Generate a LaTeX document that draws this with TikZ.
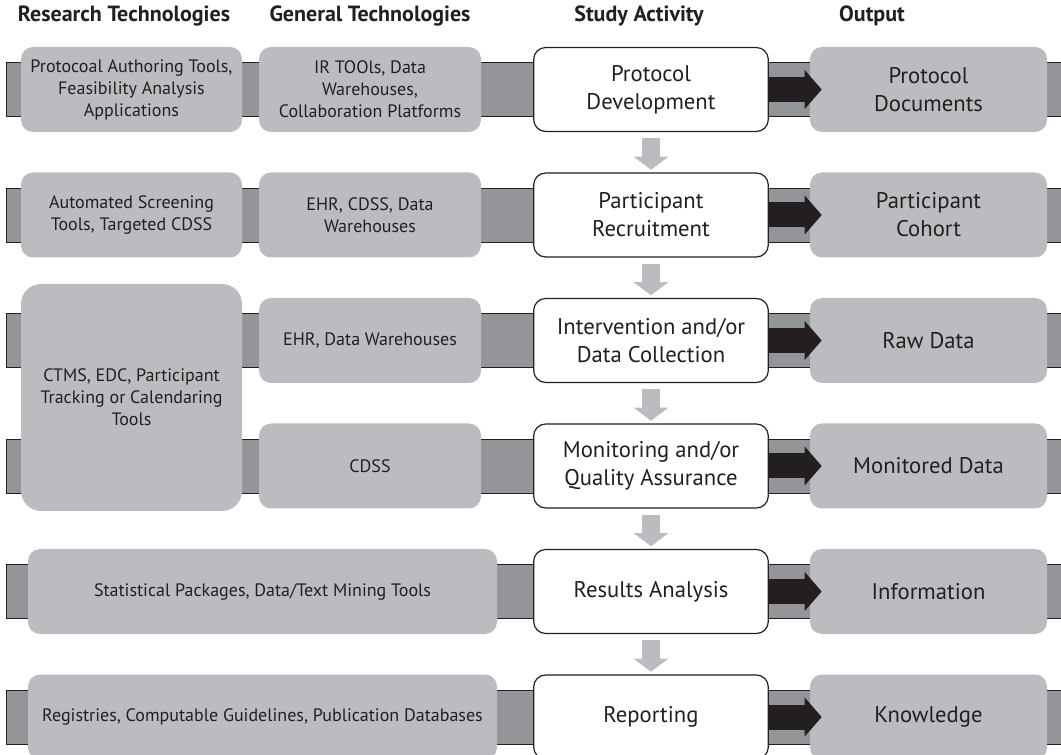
\documentclass[tikz,border=0pt]{standalone}
\usepackage{fontspec}
\setmainfont{PT Sans}
\usepackage{xcolor}
\usepackage{tikz}
\usetikzlibrary{positioning, arrows.meta}
\definecolor{BoxGray}{HTML}{BBBCBF}
\definecolor{BarGray}{HTML}{939598}
\definecolor{InkBlack}{HTML}{231F20}

\begin{document}
\begin{tikzpicture}[
            x=0.75pt, y=-0.75pt,
            techbox/.style={fill=BoxGray, rounded corners=9pt, text=InkBlack, minimum height=63.75pt, align=center, inner sep=2pt, font=\fontsize{13.5}{16.5}\selectfont},
            resbox/.style={techbox, minimum width=165.75pt},
            genbox/.style={techbox, minimum width=166.5pt},
            widebox/.style={techbox, minimum width=351.75pt},
            outbox/.style={techbox, minimum width=177.75pt, font=\fontsize{17}{21}\selectfont},
            studybox/.style={draw=InkBlack, line width=0.9pt, fill=white, rounded corners=9pt, text=InkBlack, minimum width=176pt, minimum height=63pt, align=center, inner sep=2pt, font=\fontsize{17}{21}\selectfont},
            head/.style={text=InkBlack, font=\bfseries\fontsize{16.5}{18}\selectfont},
            bar/.style={fill=BarGray, draw=InkBlack, line width=0.6pt},
            flow/.style={line width=18.75pt, InkBlack, -{Triangle[length=12.75pt, width=28.5pt]}},
            godown/.style={line width=13.5pt, BoxGray, -{Triangle[length=9.75pt, width=25.5pt]}}
        ]
            \useasboundingbox (0,0) rectangle (1061,755);

            % column heads
            \node[head] (hres) at (124,16) {Research Technologies};
            \node[head] (hgen) at (370,16) {General Technologies};
            \node[head] (hstudy) at (639,16) {Study Activity};
            \node[head] (hout) at (872,16) {Output};

            % bars behind each row
            \foreach \y in {89.5, 215, 340.5, 466, 591.5, 717}
                \draw[bar] (6,\y-27) rectangle (1070,\y+27);

            % technologies
            \node[resbox] (r1) at (131.5,89.5) {Protocoal Authoring Tools,\\ Feasibility Analysis\\ Applications};
            \node[resbox] (r2) at (131.5,215) {Automated Screening\\ Tools, Targeted CDSS};
            \node[resbox, minimum height=170.25pt, rounded corners=15pt] (r34) at (131.5,397.5) {CTMS, EDC, Participant\\ Tracking or Calendaring\\ Tools};
            \node[genbox] (g1) at (370,89.5) {IR TOOls, Data\\ Warehouses,\\ Collaboration Platforms};
            \node[genbox] (g2) at (370,215) {EHR, CDSS, Data\\ Warehouses};
            \node[genbox] (g3) at (370,340.5) {EHR, Data Warehouses};
            \node[genbox] (g4) at (370,466) {CDSS};
            \node[widebox] (w5) at (262.5,591.5) {Statistical Packages, Data/Text Mining Tools};
            \node[widebox] (w6) at (262.5,717) {Registries, Computable Guidelines, Publication Databases};

            % study activity
            \node[studybox] (s1) at (651,89.5) {Protocol\\ Development};
            \node[studybox] (s2) at (651,215) {Participant\\ Recruitment};
            \node[studybox] (s3) at (651,340.5) {Intervention and/or\\ Data Collection};
            \node[studybox] (s4) at (651,466) {Monitoring and/or\\ Quality Assurance};
            \node[studybox] (s5) at (651,591.5) {Results Analysis};
            \node[studybox] (s6) at (651,717) {Reporting};

            % output
            \node[outbox] (o1) at (928.5,89.5) {Protocol\\ Documents};
            \node[outbox] (o2) at (928.5,215) {Participant\\ Cohort};
            \node[outbox] (o3) at (928.5,340.5) {Raw Data};
            \node[outbox] (o4) at (928.5,466) {Monitored Data};
            \node[outbox] (o5) at (928.5,591.5) {Information};
            \node[outbox] (o6) at (928.5,717) {Knowledge};

            \foreach \i in {1,...,6}
                \draw[flow] (s\i.east) -- ([xshift=9pt]o\i.west);

            \foreach \i/\j in {1/2, 2/3, 3/4, 4/5, 5/6}
                \draw[godown] ([yshift=-4.5pt]s\i.south) -- ([yshift=2pt]s\j.north);

        \end{tikzpicture}
\end{document}
